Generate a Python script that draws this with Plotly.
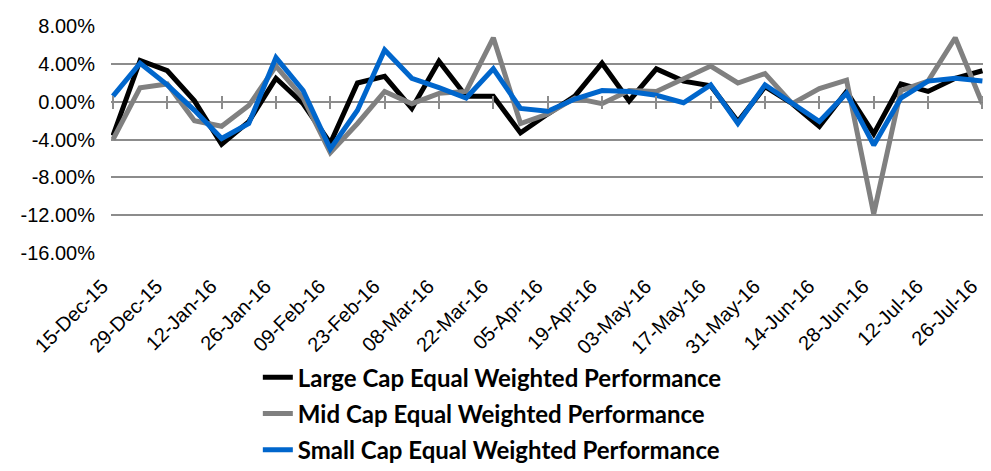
import plotly.graph_objects as go

dates = [
    "2015-12-15", "2015-12-22", "2015-12-29", "2016-01-05", "2016-01-12", "2016-01-19",
    "2016-01-26", "2016-02-02", "2016-02-09", "2016-02-16", "2016-02-23", "2016-03-01",
    "2016-03-08", "2016-03-15", "2016-03-22", "2016-03-29", "2016-04-05", "2016-04-12",
    "2016-04-19", "2016-04-26", "2016-05-03", "2016-05-10", "2016-05-17", "2016-05-24",
    "2016-05-31", "2016-06-07", "2016-06-14", "2016-06-21", "2016-06-28", "2016-07-05",
    "2016-07-12", "2016-07-19", "2016-07-26",
]

large_cap = [-3.6, 4.4, 3.3, 0.1, -4.5, -2.1, 2.5, -0.2, -4.4, 2.0, 2.7, -0.7,
             4.3, 0.6, 0.6, -3.3, -1.3, 0.6, 4.1, 0.1, 3.5, 2.2, 1.7, -2.1,
             1.6, -0.2, -2.6, 1.1, -3.4, 1.9, 1.1, 2.5, 3.3]
mid_cap = [-4.0, 1.5, 1.9, -2.0, -2.6, -0.4, 3.8, 0.4, -5.4, -2.3, 1.1, -0.2,
           0.9, 1.1, 6.8, -2.3, -1.3, 0.4, -0.2, 1.2, 1.1, 2.4, 3.8, 2.0,
           3.0, -0.2, 1.4, 2.3, -11.9, 1.2, 2.2, 6.8, -0.2]
small_cap = [0.6, 4.1, 1.8, -0.9, -3.9, -2.3, 4.7, 1.2, -5.0, -0.9, 5.5, 2.5,
             1.5, 0.4, 3.5, -0.7, -1.0, 0.3, 1.2, 1.1, 0.7, -0.1, 1.8, -2.3,
             1.8, -0.1, -2.1, 0.9, -4.6, 0.4, 2.2, 2.5, 2.2]

tick_dates = dates[::2]
tick_labels = ["15-Dec-15", "29-Dec-15", "12-Jan-16", "26-Jan-16", "09-Feb-16",
               "23-Feb-16", "08-Mar-16", "22-Mar-16", "05-Apr-16", "19-Apr-16",
               "03-May-16", "17-May-16", "31-May-16", "14-Jun-16", "28-Jun-16",
               "12-Jul-16", "26-Jul-16"]

y_ticks = [-16, -12, -8, -4, 0, 4, 8]
y_tick_labels = ["-16.00%", "-12.00%", "-8.00%", "-4.00%", "0.00%", "4.00%", "8.00%"]

series = [
    ("Large Cap Equal Weighted Performance", large_cap, "#000000"),
    ("Mid Cap Equal Weighted Performance", mid_cap, "#808080"),
    ("Small Cap Equal Weighted Performance", small_cap, "#0066CC"),
]

fig = go.Figure()
# invisible helper traces so the overlay axes (tick marks on the zero line) get drawn
for ax in ["x2", "x3"]:
    fig.add_trace(go.Scatter(
        x=dates, y=large_cap, mode="lines", xaxis=ax, yaxis="y",
        line=dict(width=0, color="rgba(0,0,0,0)"), opacity=0,
        showlegend=False, hoverinfo="skip",
    ))
for i, (name, vals, color) in enumerate(series):
    fig.add_trace(go.Scatter(
        x=dates, y=vals, mode="lines", name=name, legendgroup=str(i),
        line=dict(color=color, width=5),
    ))

# trailing non-breaking spaces nudge rotated labels so their corners meet the ticks
pad = "\u00a0\u00a0\u2009"
label_text = [t + pad for t in tick_labels]

xrange = ["2015-12-14 12:00", "2016-07-26 16:00"]
axis_font = dict(family="Liberation Sans, Arial, sans-serif", size=20, color="#000000")

fig.update_layout(
    width=991, height=471,
    margin=dict(l=103, r=7, t=18, b=204),
    paper_bgcolor="white", plot_bgcolor="white",
    showlegend=True,
    legend=dict(
        x=0.168, xanchor="left", y=-0.45, yanchor="top",
        font=dict(family="Lato, Open Sans, sans-serif", size=24, color="#000000",
                  weight="bold"),
        tracegroupgap=2, itemwidth=30, bgcolor="rgba(0,0,0,0)",
    ),
    xaxis=dict(
        type="date", range=xrange, tickvals=tick_dates, ticktext=label_text,
        tickangle=-45, tickfont=axis_font, showgrid=False, showline=False,
        ticks="", zeroline=False, ticklabelstandoff=6, ticklabeloverflow="allow",
    ),
    xaxis2=dict(
        type="date", range=xrange, tickvals=tick_dates, overlaying="x",
        anchor="free", position=16.05 / 24.1, showticklabels=False,
        ticks="outside", ticklen=6, tickcolor="#8c8c8c", tickwidth=1.5,
        showgrid=False, showline=False, zeroline=False,
    ),
    xaxis3=dict(
        type="date", range=xrange, tickvals=tick_dates, overlaying="x",
        anchor="free", position=16.05 / 24.1, showticklabels=False,
        ticks="inside", ticklen=6, tickcolor="#8c8c8c", tickwidth=1.5,
        showgrid=False, showline=False, zeroline=False,
    ),
    yaxis=dict(
        range=[-16.05, 8.05], tickvals=y_ticks, ticktext=y_tick_labels,
        tickfont=axis_font,
        showgrid=True, gridcolor="#8c8c8c", gridwidth=1.5,
        zeroline=True, zerolinecolor="#8c8c8c", zerolinewidth=1.5,
        showline=False, ticks="", ticklabelstandoff=15, domain=[0, 1],
    ),
)

fig.write_html("out.html")
